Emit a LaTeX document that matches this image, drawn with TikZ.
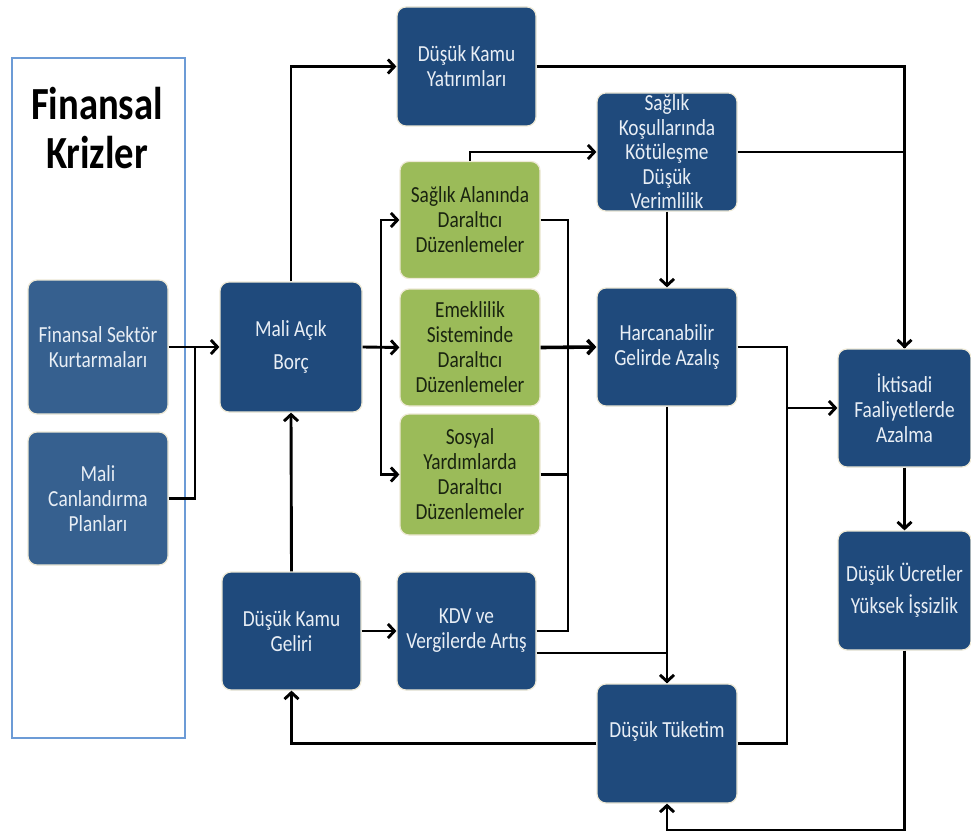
\documentclass[tikz,border=0pt]{standalone}
\usepackage{fontspec}
\setmainfont{Carlito}[FakeStretch=0.84]
\usetikzlibrary{arrows.meta}
\definecolor{dblue}{HTML}{1F4A7C}
\definecolor{lblue}{HTML}{36608F}
\definecolor{gbox}{HTML}{9BBB59}
\definecolor{frame}{HTML}{6C9BD6}
\definecolor{glow}{HTML}{EEE9D6}
\definecolor{wtext}{HTML}{E8EEF5}
\definecolor{gtext}{HTML}{1A2410}
\tikzset{
  boxbase/.style={rounded corners=9pt, draw=glow, line width=1.2pt, inner sep=2pt,
    align=center, font=\fontsize{23}{25}\selectfont},
  bluebox/.style={boxbase, fill=dblue, text=wtext},
  lightbox/.style={boxbase, fill=lblue, text=wtext},
  greenbox/.style={boxbase, fill=gbox, text=gtext},
  conn/.style={line width=2.9pt, black},
  arr/.style={conn, -{Straight Barb[length=6.5pt,width=14pt]}},
}
\begin{document}
\begin{tikzpicture}[x=1pt,y=-1pt]
\useasboundingbox (0,0) rectangle (971,834);
\fill[white] (0,0) rectangle (971,834);
% frame
\node[draw=frame, line width=2pt, minimum width=173pt, minimum height=680pt, inner sep=0pt] (frm) at (98.5,398) {};
\node[font=\fontsize{46}{49}\selectfont\bfseries, align=center] (title) at (97,128) {Finansal\\Krizler};
% boxes
\node[lightbox, minimum width=140pt, minimum height=134pt] (fsk) at (98,347) {Finansal Sektör\\Kurtarmaları};
\node[lightbox, minimum width=140pt, minimum height=133pt] (mcp) at (98,498.5) {Mali\\Canlandırma\\Planları};
\node[bluebox, minimum width=142pt, minimum height=130pt] (mab) at (291,347) {Mali Açık\\[8pt]Borç};
\node[bluebox, minimum width=139pt, minimum height=119pt] (dky) at (466.5,66.5) {Düşük Kamu\\Yatırımları};
\node[bluebox, minimum width=140pt, minimum height=118pt, font=\fontsize{23}{24.5}\selectfont] (skk) at (667,152) {Sağlık\\Koşullarında\\Kötüleşme\\Düşük\\Verimlilik};
\node[greenbox, minimum width=140pt, minimum height=117pt] (sad) at (470,220) {Sağlık Alanında\\Daraltıcı\\Düzenlemeler};
\node[greenbox, minimum width=140pt, minimum height=117pt] (emk) at (470,347.5) {Emeklilik\\Sisteminde\\Daraltıcı\\Düzenlemeler};
\node[greenbox, minimum width=140pt, minimum height=121pt] (sos) at (470,474.5) {Sosyal\\Yardımlarda\\Daraltıcı\\Düzenlemeler};
\node[bluebox, minimum width=140pt, minimum height=118pt] (hga) at (667,347) {Harcanabilir\\Gelirde Azalış};
\node[bluebox, minimum width=133pt, minimum height=118pt] (ifa) at (904.5,408) {İktisadi\\Faaliyetlerde\\Azalma};
\node[bluebox, minimum width=133pt, minimum height=119pt] (dui) at (904.5,590.5) {Düşük Ücretler\\[7pt]Yüksek İşsizlik};
\node[bluebox, minimum width=139pt, minimum height=118pt] (dkg) at (291.5,631) {Düşük Kamu\\Geliri};
\node[bluebox, minimum width=139pt, minimum height=118pt] (kdv) at (466.5,631) {KDV ve\\Vergilerde Artış};
\node[bluebox, minimum width=140pt, minimum height=119pt, text height=14pt, text depth=27pt] (dtk) at (667,743.5) {Düşük Tüketim};
% junction coordinates
\coordinate (j1) at (195,347);
\coordinate (s1) at (381,347);
\coordinate (s2) at (568,347.5);
\coordinate (s3) at (787,408);
\coordinate (b1) at (904.5,830);
% connectors
\draw[arr] (fsk.east) -- (mab.west);
\draw[conn] (mcp.east) -| (j1);
\draw[arr] (mab.north) |- (dky.west);
\draw[arr] (mab.east) -- (emk.west);
\draw[arr] (s1) |- (sad.west);
\draw[arr] (s1) |- (sos.west);
\draw[arr] (dkg.north) -- (mab.south);
\draw[arr] (dkg.east) -- (kdv.west);
\draw[arr] (sad.north) |- (skk.west);
\draw[conn] (sad.east) -| (s2);
\draw[conn] (sos.east) -| (s2);
\draw[conn] (kdv.east) -| (s2);
\draw[arr, line width=3.6pt] (emk.east) -- (hga.west);
\draw[arr] ([yshift=-22pt]kdv.east) -| (dtk.north);
\draw[arr] (skk.south) -- (hga.north);
\draw[conn] (hga.south) -- (dtk.north);
\draw[conn] (hga.east) -| (s3);
\draw[conn] (dtk.east) -| (s3);
\draw[arr] (s3) -- (ifa.west);
\draw[arr] (dky.east) -| (ifa.north);
\draw[conn] (skk.east) -| (ifa.north);
\draw[arr] (ifa.south) -- (dui.north);
\draw[arr] (dui.south) -- (b1) -| (dtk.south);
\draw[arr] (dtk.west) -| (dkg.south);
\end{tikzpicture}
\end{document}
